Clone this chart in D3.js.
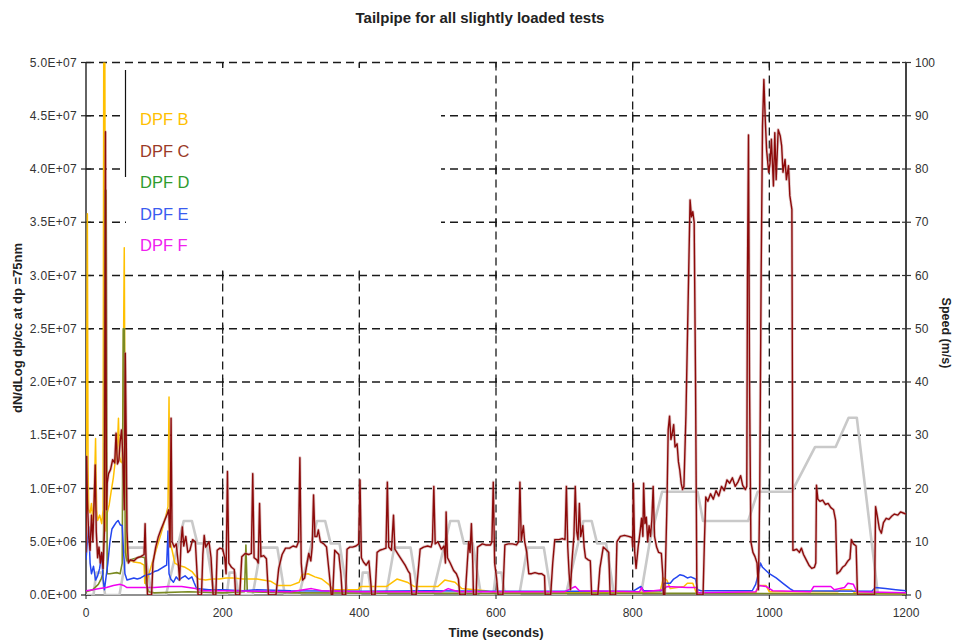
<!DOCTYPE html>
<html><head><meta charset="utf-8">
<script src="https://cdn.jsdelivr.net/npm/d3@7"></script>
<style>
body{margin:0;background:#fff}
svg{display:block}
text{font-family:Arial,"Liberation Sans",sans-serif}
</style>
</head><body>
<svg id="chart" width="954" height="644"></svg>
<script>
// ---- Data (particle numbers in units of 1e6 dp/cc; speed in m/s) ----
const chartTitle = "Tailpipe for all slightly loaded tests";
const xTitle = "Time (seconds)";
const yTitle = "dN/dLog dp/cc at dp =75nm";
const y2Title = "Speed (m/s)";
const seriesNames = ["DPF B","DPF C","DPF D","DPF E","DPF F"];
const xTicks = [0,200,400,600,800,1000,1200];
const leftTicks = [0,5e6,1e7,1.5e7,2e7,2.5e7,3e7,3.5e7,4e7,4.5e7,5e7];
const leftTickLabels = ["0.0E+00","5.0E+06","1.0E+07","1.5E+07","2.0E+07","2.5E+07","3.0E+07","3.5E+07","4.0E+07","4.5E+07","5.0E+07"];
const rightTicks = [0,10,20,30,40,50,60,70,80,90,100];

const dpfB = [[0,5],[1,20],[2,35.8],[3,12],[4,8],[6,7.7],[8,8.6],[10,7],[12,9],[14,14.7],[15.5,8],[17,7],[20,7.5],[23,6.7],[25,8],[26,53],[27.5,53],[29,6],[31,7.7],[34,8.5],[37,9.8],[40,11],[43,12.7],[46,14],[47.5,16.6],[49,13],[51,12.5],[53,12.4],[54.5,20],[56,32.6],[57.5,10],[59,3.5],[62,3.3],[70,3.1],[80,3.0],[85,2.8],[86,1.1],[88,1.1],[95,2.6],[102,4.1],[110,5.8],[116,7.2],[120,8.3],[121.5,18.6],[123,5],[126,4.2],[130,3.0],[135,2.8],[140,2.7],[145,2.6],[150,2.4],[155,2.2],[160,1.8],[165,1.5],[175,1.4],[185,1.5],[195,1.5],[205,1.6],[215,1.6],[230,1.5],[250,1.5],[270,1.3],[280,0.9],[300,0.9],[312,1.2],[316,1.9],[325,2.0],[335,1.7],[345,1.5],[355,1.0],[362,0.5],[398,0.5],[402,0.8],[440,0.8],[455,1.5],[470,1.2],[480,0.8],[515,0.8],[525,1.4],[540,1.2],[550,0.6],[585,0.4],[600,0.2],[800,0.2],[840,0.3],[845,1.6],[850,1.4],[855,0.6],[875,0.8],[880,1.1],[888,1.1],[893,0.2],[980,0.2],[985,0.9],[995,0.9],[1000,0.3],[1100,0.3],[1105,0.5],[1120,0.5],[1125,0.2],[1200,0.1]];

const dpfC = [[0,4.0],[1,13.0],[2,9],[4,5.5],[6,4.2],[8,7.5],[10,5.0],[12,9.0],[13.5,12.2],[15,6.0],[17,3.5],[19,4.5],[21,3.0],[23,4.0],[25,2.5],[27,6],[28.5,43.5],[30,8],[31,10.5],[33,11.4],[36,11.8],[39,12.7],[42,12.4],[44,15.2],[46,12.3],[48,12.6],[50,14.4],[52,15.5],[54,13.0],[56,8],[57.5,22.7],[59,14],[60,6],[62,3.0],[65,3.3],[70,3.2],[75,3.5],[80,3.6],[85,3.8],[86.5,6.7],[88,3],[90,0],[96,0],[98,3.0],[102,4.5],[106,5.5],[110,6.2],[115,7.0],[119,7.6],[121,8.0],[123,4.5],[124.5,16.6],[126,5.0],[129,4.5],[132,4.8],[135,3.0],[137,1.4],[139,4.8],[141,6.4],[143,4.6],[146,5.5],[149,4.0],[152,4.2],[156,5.2],[160,5.0],[163,1.5],[164,0],[169,0],[171,3.8],[173,5.6],[175,4.5],[180,5.0],[183,3.5],[186,0],[190,0],[192,4.2],[196,4.4],[200,4.3],[203,3.5],[205,2],[207,11.6],[209,3.0],[213,2.6],[217,2.4],[219,0],[225,0],[228,3.6],[233,3.9],[238,3.8],[242,3.9],[244,11.4],[246,3.5],[250,3.3],[252,3],[254,8.6],[256,3.6],[260,3.7],[264,3.4],[267,0],[278,0],[282,2.5],[287,3.8],[292,4.4],[298,4.4],[303,4.6],[308,4.5],[311,5],[313,12.9],[315,3],[317,1.4],[320,1.6],[323,2.8],[326,3.9],[329,3.2],[331,4.5],[333,9.4],[335,5.5],[338,5.5],[340,6.1],[343,5.0],[348,4.8],[352,4.5],[356,2.0],[359,0],[361,0],[364,4.2],[367,4.0],[370,3.8],[373,2],[375,0],[380,0],[382,4.3],[386,4.5],[390,4.5],[395,4.6],[399,4.8],[401,10.8],[403,3.5],[406,3.1],[410,2.8],[414,3.2],[417,1],[418,0],[423,0],[426,4.0],[430,4.2],[435,4.3],[439,4.4],[441,10.6],[443,4.5],[447,4.2],[450,7.5],[452,4.3],[457,3.8],[462,3.3],[467,2.8],[471,2.3],[474,2.0],[477,0],[483,0],[489,4.3],[494,4.5],[500,4.6],[505,4.5],[507,5],[509,10.2],[511,4.8],[515,5.0],[520,4.3],[524,4.6],[526,3],[527,7.8],[529,3.5],[533,3.0],[538,2.3],[542,2.0],[545,1.5],[547,0],[555,0],[558,3],[560,5.0],[562,4.0],[564,6.7],[566,3],[567,0],[571,0],[573,4.5],[580,4.8],[585,4.7],[592,4.7],[594,5],[596,10.6],[598,3],[601,1.5],[603,0],[610,0],[613,4.7],[618,4.8],[624,4.8],[630,4.7],[633,5],[635,10.6],[637,5.1],[640,6.5],[642,5.0],[645,4.0],[648,2.0],[652,2.0],[657,2.1],[662,2.0],[667,2.0],[671,1.8],[672,0],[680,0],[683,3],[686,5.2],[692,5.2],[697,5.3],[701,5.2],[703,10.2],[705,4.5],[707,2],[709,0.5],[711,3],[714,5.5],[716,10.2],[718,6.0],[720,5.2],[722,8.6],[724,5.5],[727,6.5],[729,4.5],[731,3.5],[735,3.3],[738,3.2],[740,0],[749,0],[752,2.5],[757,4.5],[762,4.2],[765,4.0],[767,0],[775,0],[777,5.0],[782,5.5],[788,5.6],[794,5.5],[799,5.4],[800,4.5],[801,10.5],[803,4],[805,2.5],[808,4.5],[811,6.0],[813,7.2],[815,5.5],[816,10.5],[818,6.7],[820,7.3],[822,5.0],[824,6.5],[826,5.5],[828,7.0],[830,10.2],[832,5.5],[835,4.5],[838,4.0],[842,3.9],[844,2],[845,0],[847,0],[850,8],[852,15.5],[854,16.8],[856,14.6],[858,15.2],[860,16],[862,13.9],[865,14.2],[867,12.5],[869,11.7],[871,10.5],[873,9.9],[875,10.2],[878,17],[881,27],[884,37.1],[886,35.5],[888,36],[890,35],[892,20],[894,0],[903,0],[905,5],[907,9.2],[910,8.8],[914,9.5],[918,9.0],[922,9.8],[926,9.3],[930,10.2],[934,9.8],[938,10.8],[942,10.5],[946,11.0],[950,10.2],[954,10.6],[958,11.2],[961,10.3],[965,9.9],[967,10.2],[968,30],[969.5,43.2],[971,20],[973,5.0],[976,4.0],[979,3.6],[982,3.0],[984,0.5],[986,10],[988,30],[990,44],[992,48.4],[994,44.7],[996,41.8],[999,39.7],[1001,40.5],[1003,42.8],[1006,38.4],[1008,43.4],[1010,39],[1013,43.7],[1016,43.1],[1018,42.2],[1020,39.7],[1023,40.9],[1025,39],[1028,40.3],[1030,37.5],[1033,36.2],[1034.5,4.2],[1036,4.2],[1040,4.3],[1044,4.0],[1047,4.4],[1050,3.8],[1054,3.3],[1058,2.8],[1062,2.5],[1066,2.6],[1068,3],[1069,10.3],[1071,9.0],[1074,8.8],[1078,8.9],[1082,8.5],[1086,8.6],[1090,8.2],[1094,8.0],[1097,7.0],[1099,2.0],[1103,2.2],[1107,2.6],[1111,2.8],[1115,3.2],[1118,3.4],[1120,5.2],[1123,4.8],[1127,4.6],[1129,0],[1154,0],[1155.5,8.3],[1158,7.4],[1161,6.2],[1164,5.8],[1167,6.8],[1171,7.2],[1175,7.1],[1179,7.4],[1183,7.6],[1188,7.5],[1192,7.8],[1196,7.7],[1200,7.6]];

const dpfD = [[0,0.3],[10,0.5],[18,1.0],[22,1.5],[25,2],[26.5,10],[28,38],[29.5,38],[31,2],[35,2.0],[45,2.1],[50,2.0],[53,3],[54.5,25],[56,25],[57.5,4],[60,3.2],[70,3.4],[80,3.6],[86,3.5],[88,1],[92,0.3],[100,0.2],[150,0.3],[200,0.2],[232,0.3],[234,4.7],[236,0.3],[300,0.2],[600,0.15],[900,0.15],[1200,0.1]];

const dpfE = [[0,3.3],[2,5],[4,6.4],[6,3],[8,2.0],[11,2.7],[14,1.4],[17,1.8],[20,2.5],[23,3.9],[25,1.5],[27,0.5],[29,1.5],[32,3.0],[35,5.0],[38,6.2],[41,6.5],[44,6.8],[47,7.0],[50,6.6],[53,6.5],[55,4],[57,2],[60,1.4],[65,1.5],[70,1.6],[75,1.5],[80,1.6],[85,1.8],[90,1.9],[95,2.0],[100,2.2],[105,2.3],[110,2.5],[115,2.7],[118,2.8],[120,6.0],[121.5,2],[124,1.5],[128,1.2],[132,1.7],[136,1.4],[140,1.6],[145,1.8],[150,1.5],[155,1.7],[158,1.2],[162,0.6],[180,0.5],[200,0.5],[230,0.4],[250,0.5],[300,0.4],[400,0.35],[500,0.4],[600,0.35],[700,0.35],[800,0.35],[812,0.8],[816,0.4],[843,0.4],[846,1.1],[855,1.1],[860,1.5],[865,1.7],[869,1.9],[875,1.8],[880,1.6],[885,1.7],[892,1.5],[895,0.5],[900,0.4],[975,0.4],[980,1.0],[984,2.0],[987,3.0],[990,2.6],[995,2.3],[1000,2.0],[1010,1.6],[1020,1.1],[1030,0.6],[1035,0.4],[1150,0.35],[1155,0.7],[1170,0.6],[1185,0.5],[1200,0.4]];

const dpfF = [[0,0.4],[10,0.5],[20,0.6],[30,0.7],[40,0.9],[50,1.0],[55,0.9],[60,0.7],[80,0.7],[100,0.7],[120,0.8],[140,0.8],[160,0.6],[170,0.4],[200,0.4],[250,0.35],[300,0.3],[330,0.6],[345,0.4],[400,0.3],[520,0.3],[530,0.6],[545,0.3],[700,0.3],[716,0.8],[722,0.4],[810,0.3],[813,0.7],[816,0.3],[845,0.5],[850,0.8],[880,0.7],[893,0.7],[896,0.2],[980,0.3],[985,0.9],[995,0.8],[1005,0.4],[1060,0.3],[1065,0.8],[1090,0.8],[1095,0.5],[1110,0.7],[1115,1.1],[1123,1.0],[1128,0.3],[1200,0.2]];

const speed = [[0,0],[11,0],[15,4.2],[23,4.2],[28,0],[49,0],[61,8.9],[85,8.9],[96,0],[117,0],[143,13.9],[155,13.9],[163,9.7],[176,9.7],[188,0],
[206,0],[210,4.2],[218,4.2],[223,0],[244,0],[256,8.9],[280,8.9],[291,0],[312,0],[338,13.9],[350,13.9],[358,9.7],[371,9.7],[383,0],
[401,0],[405,4.2],[413,4.2],[418,0],[439,0],[451,8.9],[475,8.9],[486,0],[507,0],[533,13.9],[545,13.9],[553,9.7],[566,9.7],[578,0],
[596,0],[600,4.2],[608,4.2],[613,0],[634,0],[646,8.9],[670,8.9],[681,0],[702,0],[728,13.9],[740,13.9],[748,9.7],[761,9.7],[773,0],
[812,0],[825,10],[843,19.4],[895,19.4],[903,13.9],[969,13.9],[983,19.4],[1033,19.4],[1067,27.8],[1097,27.8],[1116,33.3],[1128,33.3],[1159,0],[1200,0]];

// ---- styles ----
const lineColors = {B:"#FFC000", C:"#8C0A0A", D:"#7A8A22", E:"#2446F0", F:"#F000F0"};
const legendColors = ["#FFC000","#9A3A28","#2E9B2E","#3A5CF0","#F020F0"];

const svg = d3.select("#chart");
const W = 954, H = 644;
const L = 86, R = 906, T = 62.5, B = 595;

const x = d3.scaleLinear().domain([0,1200]).range([L,R]);
const y = d3.scaleLinear().domain([0,5e7]).range([B,T]);
const y2 = d3.scaleLinear().domain([0,100]).range([B,T]);

svg.append("rect").attr("width",W).attr("height",H).attr("fill","#fff");

svg.append("defs").append("clipPath").attr("id","plot")
  .append("rect").attr("x",L).attr("y",T).attr("width",R-L).attr("height",B-T);

// gridlines
const grid = svg.append("g").attr("stroke","#1a1a1a").attr("stroke-width",1.3).attr("stroke-dasharray","8,5");
grid.selectAll("line.h").data(leftTicks.filter(d=>d>0)).join("line")
  .attr("x1",L).attr("x2",R).attr("y1",d=>y(d)).attr("y2",d=>y(d));
grid.selectAll("line.v").data(xTicks.filter(d=>d>0 && d<1200)).join("line")
  .attr("x1",d=>x(d)).attr("x2",d=>x(d)).attr("y1",T).attr("y2",B);
const cross = svg.append("g").attr("stroke","#1a1a1a").attr("stroke-width",1.2);
xTicks.filter(d=>d>0 && d<1200).forEach(xv=>{
  leftTicks.filter(d=>d>0).forEach(yv=>{
    cross.append("line").attr("x1",x(xv)).attr("x2",x(xv))
      .attr("y1",y(yv)-(yv===5e7?0:4)).attr("y2",y(yv)+5);
  });
});

// legend box (covers grid)
svg.append("rect").attr("x",126).attr("y",68).attr("width",315).attr("height",202).attr("fill","#fff");
svg.append("line").attr("x1",125.5).attr("x2",125.5).attr("y1",70).attr("y2",177)
  .attr("stroke","#111").attr("stroke-width",1.2);

// axes
const ax = svg.append("g");
ax.append("line").attr("x1",L).attr("x2",L).attr("y1",T).attr("y2",B).attr("stroke","#222").attr("stroke-width",1.4);
ax.append("line").attr("x1",R).attr("x2",R).attr("y1",T).attr("y2",B).attr("stroke","#444").attr("stroke-width",2);
ax.append("line").attr("x1",L).attr("x2",R).attr("y1",B).attr("y2",B).attr("stroke","#222").attr("stroke-width",1);
ax.selectAll("line.lt").data(leftTicks).join("line").attr("class","lt")
  .attr("x1",L-5).attr("x2",L+5).attr("y1",d=>y(d)).attr("y2",d=>y(d)).attr("stroke","#222").attr("stroke-width",1.2);
ax.selectAll("line.rt").data(rightTicks).join("line").attr("class","rt")
  .attr("x1",R-4).attr("x2",R+5).attr("y1",d=>y2(d)).attr("y2",d=>y2(d)).attr("stroke","#333").attr("stroke-width",1.2);
ax.selectAll("line.xt").data(xTicks).join("line").attr("class","xt")
  .attr("x1",d=>x(d)).attr("x2",d=>x(d)).attr("y1",B).attr("y2",B+4).attr("stroke","#222").attr("stroke-width",1);

ax.selectAll("text.lt").data(leftTicks).join("text").attr("class","lt")
  .attr("x",77).attr("y",d=>y(d)).attr("dy","0.35em").attr("text-anchor","end")
  .attr("font-size","12px").attr("letter-spacing","0.3px").attr("fill","#333").text((d,i)=>leftTickLabels[i]);
ax.selectAll("text.rt").data(rightTicks).join("text").attr("class","rt")
  .attr("x",915).attr("y",d=>y2(d)).attr("dy","0.35em").attr("text-anchor","start")
  .attr("font-size","12px").attr("fill","#333").text(d=>d);
ax.selectAll("text.xt").data(xTicks).join("text").attr("class","xt")
  .attr("x",d=>x(d)).attr("y",617).attr("text-anchor","middle")
  .attr("font-size","12px").attr("fill","#333").text(d=>d);

// titles
svg.append("text").attr("x",480).attr("y",23).attr("text-anchor","middle")
  .attr("font-size","15px").attr("font-weight","bold").attr("fill","#222").text(chartTitle);
svg.append("text").attr("x",496).attr("y",637).attr("text-anchor","middle")
  .attr("font-size","13px").attr("font-weight","bold").attr("fill","#222").text(xTitle);
svg.append("text").attr("transform","translate(22,328) rotate(-90)").attr("text-anchor","middle")
  .attr("font-size","13px").attr("font-weight","bold").attr("fill","#222").text(yTitle);
svg.append("text").attr("transform","translate(942,333) rotate(90)").attr("text-anchor","middle")
  .attr("font-size","12.5px").attr("font-weight","bold").attr("fill","#222").text(y2Title);

// data lines
const plot = svg.append("g").attr("clip-path","url(#plot)");
const lineN = d3.line().x(d=>x(d[0])).y(d=>y(d[1]*1e6));
const lineS = d3.line().x(d=>x(d[0])).y(d=>y2(d[1]));

plot.append("path").datum(speed).attr("d",lineS).attr("fill","none")
  .attr("stroke","#c9c9c9").attr("stroke-width",2.6).attr("stroke-linejoin","round");
plot.append("path").datum(dpfB).attr("d",lineN).attr("fill","none")
  .attr("stroke",lineColors.B).attr("stroke-width",1.5).attr("stroke-linejoin","round");
plot.append("path").datum(dpfD).attr("d",lineN).attr("fill","none")
  .attr("stroke",lineColors.D).attr("stroke-width",1.6).attr("stroke-linejoin","round");
plot.append("path").datum(dpfE).attr("d",lineN).attr("fill","none")
  .attr("stroke",lineColors.E).attr("stroke-width",1.5).attr("stroke-linejoin","round");
plot.append("path").datum(dpfF).attr("d",lineN).attr("fill","none")
  .attr("stroke",lineColors.F).attr("stroke-width",1.5).attr("stroke-linejoin","round");
plot.append("path").datum(dpfC).attr("d",lineN).attr("fill","none")
  .attr("stroke","#c08a8a").attr("stroke-opacity",0.45).attr("stroke-width",3).attr("stroke-linejoin","round");
plot.append("path").datum(dpfC).attr("d",lineN).attr("fill","none")
  .attr("stroke",lineColors.C).attr("stroke-width",1.4).attr("stroke-linejoin","round");

// legend
svg.append("g").selectAll("text").data(seriesNames).join("text")
  .attr("x",140).attr("y",(d,i)=>125+i*31.5)
  .attr("font-size","16.5px").attr("fill",(d,i)=>legendColors[i]).text(d=>d);
</script>
</body></html>
